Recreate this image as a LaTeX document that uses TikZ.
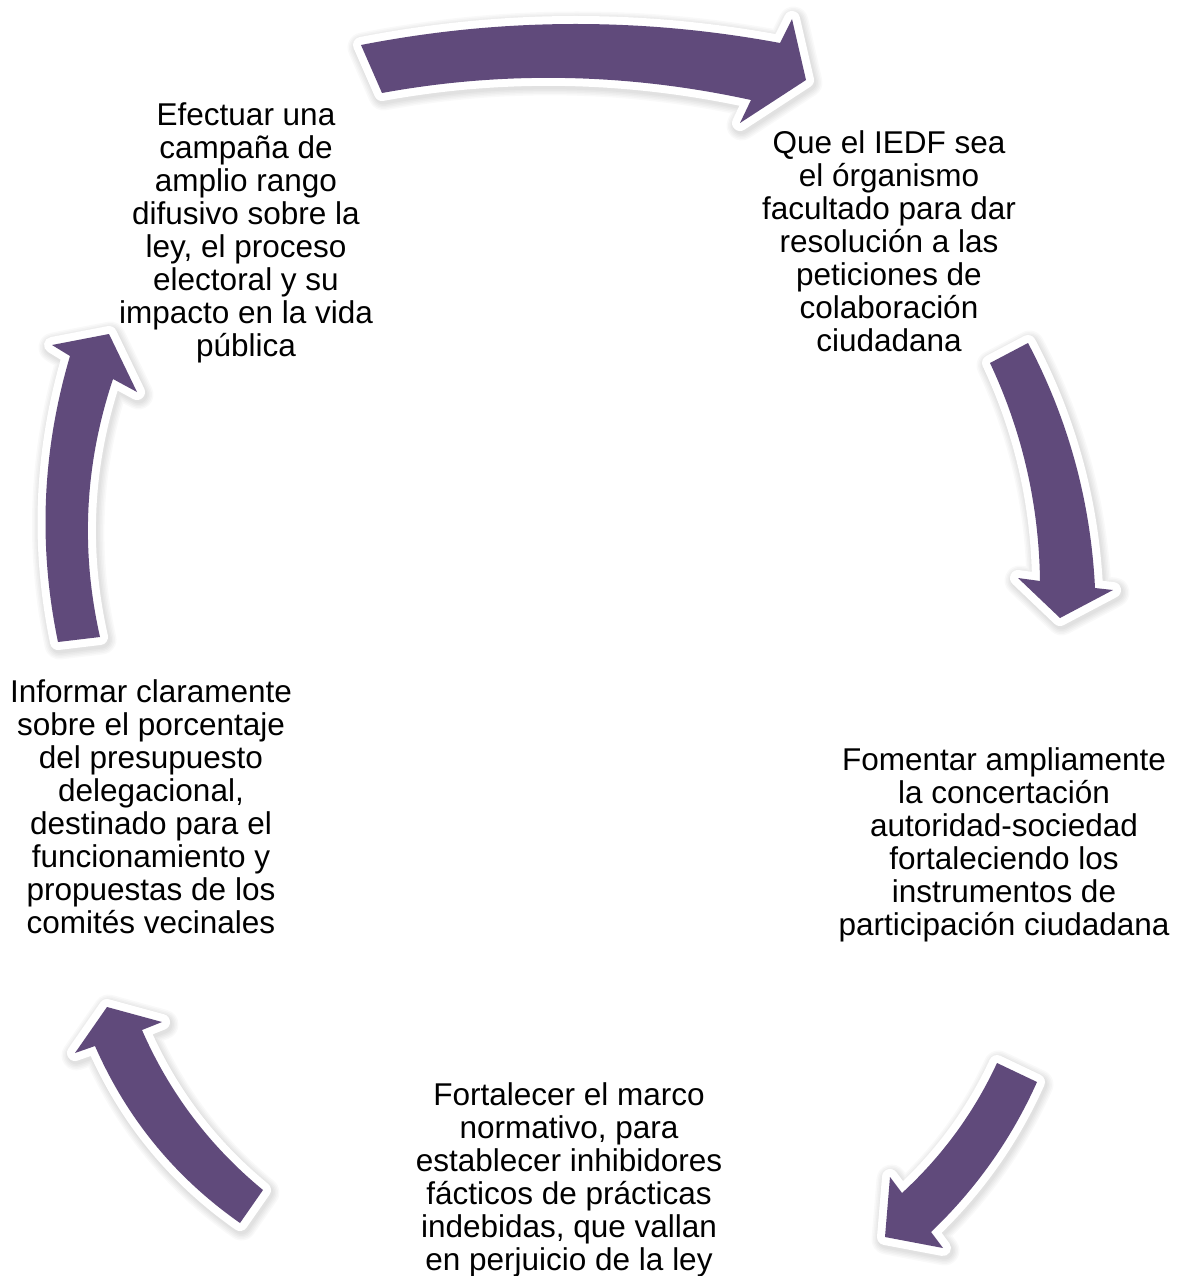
\documentclass[tikz,border=0pt]{standalone}
\usepackage{fontspec}
\setmainfont{Liberation Sans}
\definecolor{purp}{RGB}{96,74,123}
\newcommand\cyclearrow[1]{%
  \foreach \w in {30,27,24,21,18}{%
    \draw[black, opacity=0.025, line width=\w, line join=round, shift={(1.5,2.5)}] #1;}
  \draw[white, fill=white, line width=16, line join=round] #1;
  \fill[purp] #1;}
\begin{document}
\begin{tikzpicture}[x=1pt,y=-1pt,
  txt/.style={font=\fontsize{31.5}{33}\selectfont, align=center, anchor=base, inner sep=0pt, text=black}]
\useasboundingbox (0,0) rectangle (1184,1276);
\fill[white] (0,0) rectangle (1184,1276);
% arrows
\cyclearrow{(361,45) .. controls (500.7,17.7) and (640.3,17) .. (780,43) -- (792,19) -- (806,80) -- (740,123) -- (751,100) .. controls (627,73) and (504,70.7) .. (382,93) -- cycle}
\cyclearrow{(990,363) .. controls (1022.3,431.7) and (1038.9,504.3) .. (1040,581) -- (1018,578) -- (1060,618) -- (1113,590) -- (1095,588) .. controls (1090.7,501.1) and (1068.3,419.4) .. (1028,343) -- cycle}
\cyclearrow{(997,1063) .. controls (974,1112.6) and (942.3,1155.9) .. (902,1193) -- (890,1177) -- (885,1237) -- (943,1248) -- (931,1232) .. controls (976.1,1188.9) and (1011.5,1139) .. (1037,1082) -- cycle}
\cyclearrow{(263,1190) .. controls (209.9,1146.3) and (169.5,1093) .. (142,1030) -- (162,1022) -- (107,1007) -- (75,1053) -- (95,1046) .. controls (126.8,1118.5) and (175.1,1177.5) .. (240,1223) -- cycle}
\cyclearrow{(58,642) .. controls (38,546) and (42,450.7) .. (70,356) -- (52,345) -- (109,334) -- (137,392) -- (113,379) .. controls (84.7,464.1) and (80.3,549.5) .. (100,637) -- cycle}
% texts (anchor base = baseline of the last line)
\node[txt] (t1) at (246,356) {Efectuar una\\campaña de\\amplio rango\\difusivo sobre la\\ley, el proceso\\electoral y su\\impacto en la vida\\pública};
\node[txt] (t2) at (889,351) {Que el IEDF sea\\el órganismo\\facultado para dar\\resolución a las\\peticiones de\\colaboración\\ciudadana};
\node[txt] (t3) at (1004,935) {Fomentar ampliamente\\la concertación\\autoridad-sociedad\\fortaleciendo los\\instrumentos de\\participación ciudadana};
\node[txt] (t4) at (569,1270) {Fortalecer el marco\\normativo, para\\establecer inhibidores\\fácticos de prácticas\\indebidas, que vallan\\en perjuicio de la ley};
\node[txt] (t5) at (151,933) {Informar claramente\\sobre el porcentaje\\del presupuesto\\delegacional,\\destinado para el\\funcionamiento y\\propuestas de los\\comités vecinales};
\end{tikzpicture}
\end{document}
